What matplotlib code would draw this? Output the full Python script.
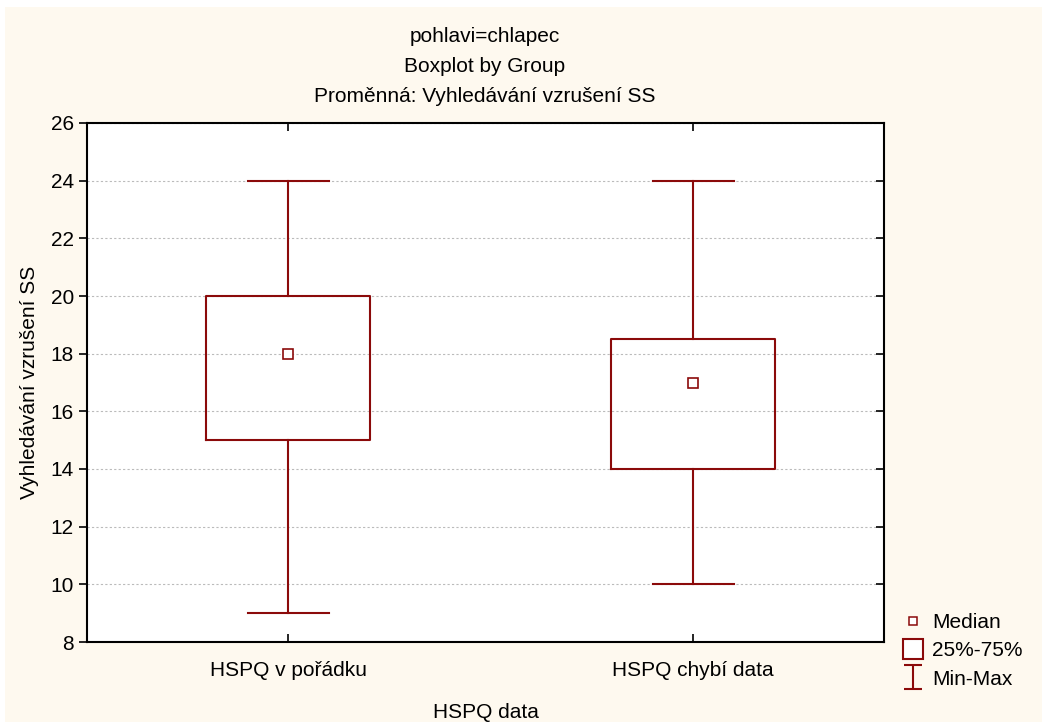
import matplotlib
matplotlib.use("Agg")
import matplotlib.pyplot as plt
from matplotlib.patches import Rectangle
from matplotlib.lines import Line2D
from matplotlib.path import Path

plt.rcParams['font.family'] = ['Liberation Sans', 'DejaVu Sans']

categories = ["HSPQ v pořádku", "HSPQ chybí data"]
mins = [9, 10]
q1s = [15, 14]
medians = [18, 17]
q3s = [20, 18.5]
maxs = [24, 24]
yticks = [8, 10, 12, 14, 16, 18, 20, 22, 24, 26]
titles = ["pohlavi=chlapec", "Boxplot by Group", "Proměnná: Vyhledávání vzrušení SS"]
ylabel = "Vyhledávání vzrušení SS"
xlabel = "HSPQ data"
legend_labels = ["Median", "25%-75%", "Min-Max"]

red = '#8B0A0A'
bg = '#FEF9EF'
fs = 15

fig = plt.figure(figsize=(10.42, 7.22), dpi=100, facecolor='white')
fig.patches.append(Rectangle((5/1042, 0), 1, 1 - 7/722, transform=fig.transFigure,
                             facecolor=bg, edgecolor='none', zorder=-10))
ax = fig.add_axes([87/1042, 1 - 642/722, (884-87)/1042, (642-123)/722])
ax.set_facecolor('white')

positions = [1, 2]
stats = []
for i, c in enumerate(categories):
    stats.append(dict(label=c, whislo=mins[i], q1=q1s[i], med=medians[i],
                      q3=q3s[i], whishi=maxs[i], fliers=[]))
ax.bxp(stats, positions=positions, widths=0.405, capwidths=0.2, showfliers=False,
       boxprops=dict(color=red, linewidth=1.5),
       whiskerprops=dict(color=red, linewidth=1.5),
       capprops=dict(color=red, linewidth=1.5),
       medianprops=dict(linestyle='none'), zorder=3)
ax.plot(positions, medians, linestyle='none', marker='s', markersize=7,
        markerfacecolor='white', markeredgecolor=red, markeredgewidth=1.2, zorder=4)

ax.set_ylim(8, 26)
ax.set_yticks(yticks)
ax.set_xlim(1 - 201/405, 2 + 191/405)
ax.set_xticks(positions)
ax.set_xticklabels(categories, fontsize=fs)
ax.tick_params(axis='y', labelsize=fs, direction='out', length=6, width=1.2, left=True, right=True)
ax.tick_params(axis='x', direction='in', length=6, width=1.2, top=True, bottom=True, pad=14)
for s in ax.spines.values():
    s.set_linewidth(1.5)
    s.set_color('black')
ax.grid(axis='y', color='#BBBBBB', linestyle=(0, (2, 2)), linewidth=0.8, zorder=0)
ax.set_axisbelow(True)

# right ticks inward
ax.yaxis.set_ticks_position('both')
for t in ax.yaxis.get_major_ticks():
    t.tick2line.set_marker(matplotlib.lines.TICKLEFT)
    t.tick2line.set_markersize(6)

ax.set_ylabel(ylabel, fontsize=fs, labelpad=8)
ax.set_xlabel(xlabel, fontsize=fs, labelpad=16)

fig.text(485/1042, 1 - 37/722, titles[0], ha='center', va='center', fontsize=fs)
fig.text(485/1042, 1 - 66/722, titles[1], ha='center', va='center', fontsize=fs)
fig.text(485/1042, 1 - 97/722, titles[2], ha='center', va='center', fontsize=fs)

ibeam = Path([(-0.75, 1), (0.75, 1), (0, 1), (0, -1), (-0.75, -1), (0.75, -1)],
             [Path.MOVETO, Path.LINETO, Path.MOVETO, Path.LINETO, Path.MOVETO, Path.LINETO])
handles = [
    Line2D([], [], linestyle='none', marker='s', markersize=6, markerfacecolor='white',
           markeredgecolor=red, markeredgewidth=1.1),
    Line2D([], [], linestyle='none', marker='s', markersize=14, markerfacecolor='white',
           markeredgecolor=red, markeredgewidth=1.5),
    Line2D([], [], linestyle='none', marker=ibeam, markersize=17, markerfacecolor='none',
           markeredgecolor=red, markeredgewidth=1.5),
]
fig.legend(handles, legend_labels, loc='upper left', bbox_to_anchor=(900/1042, 1 - 613/722),
           frameon=False, fontsize=fs, handlelength=1.2, handletextpad=0.35,
           labelspacing=0.45, borderpad=0, borderaxespad=0)

fig.savefig('out.png', dpi=100, facecolor=fig.get_facecolor())
